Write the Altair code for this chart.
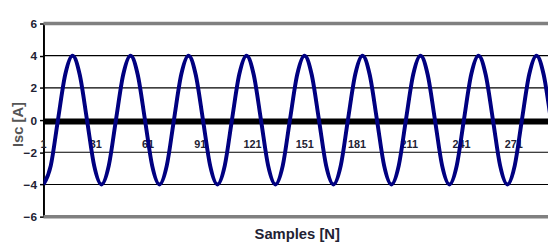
import altair as alt
import pandas as pd

# Sine wave key points (sample index, current in A)
samples = [1.0, 5.2, 9.3, 13.5, 17.7, 21.8, 26.0, 30.1, 34.3, 38.5, 42.6, 46.8,
           51.0, 55.1, 59.3, 63.4, 67.6, 71.8, 75.9, 80.1, 84.3, 88.4, 92.6, 96.7,
           100.9, 105.1, 109.2, 113.4, 117.6, 121.7, 125.9, 130.0, 134.2, 138.4,
           142.5, 146.7, 150.9, 155.0, 159.2, 163.3, 167.5, 171.7, 175.8, 180.0,
           184.2, 188.3, 192.5, 196.6, 200.8, 205.0, 209.1, 213.3, 217.5, 221.6,
           225.8, 229.9, 234.1, 238.3, 242.4, 246.6, 250.8, 254.9, 259.1, 263.2,
           267.4, 271.6, 275.7, 279.9, 284.1, 288.2, 292.4, 296.5, 300.7]
isc = [-4, -2.83, 0, 2.83, 4, 2.83, 0, -2.83] * 9 + [-4]

tick_labels = [1, 31, 61, 91, 121, 151, 181, 211, 241, 271]
thin_grid = [-4, -2, 2, 4]
gray_grid = [-6, 6]
zero_line = [0]
label_y = -1.55

wave = pd.DataFrame({"n": samples, "isc": isc})

xs = alt.Scale(domain=[1, 290.7], nice=False, zero=False)
ys = alt.Scale(domain=[-6, 6], nice=False, zero=False)

x_axis = alt.Axis(title="Samples [N]", labels=False, ticks=False, domain=False,
                  grid=False, titleFontWeight="bold", titleFontSize=15,
                  titleFont="Liberation Sans", titleColor="#222233",
                  titlePadding=10, titleX=257)
y_axis = alt.Axis(title="Isc [A]", values=[-6, -4, -2, 0, 2, 4, 6], grid=False,
                  domainColor="#000000", domainWidth=2, tickColor="#000000",
                  tickSize=4, tickWidth=1.5, labelFont="Liberation Sans",
                  labelFontWeight="bold", labelFontSize=12, labelColor="#222233",
                  labelPadding=3, titleFont="Liberation Sans", titleFontWeight="bold",
                  titleFontSize=15, titleColor="#555555", titleBaseline="middle",
                  titleX=-26.5, titleY=102)

X = alt.X("n:Q", scale=xs, axis=x_axis)
Y = alt.Y("isc:Q", scale=ys, axis=y_axis)

thin = alt.Chart(pd.DataFrame({"isc": thin_grid})).mark_rule(color="#000000", strokeWidth=1.2).encode(y=Y)
gray = alt.Chart(pd.DataFrame({"isc": gray_grid})).mark_rule(color="#808080", strokeWidth=3.5).encode(y=Y)
zero = alt.Chart(pd.DataFrame({"isc": zero_line})).mark_rule(color="#000000", strokeWidth=6, yOffset=1.5).encode(y=Y)

labels = alt.Chart(pd.DataFrame({"n": tick_labels, "isc": [label_y] * len(tick_labels)})).mark_text(
    font="Liberation Sans", fontWeight="bold", fontSize=11, color="#222233", baseline="middle"
).encode(x=X, y=Y, text="n:Q")

line = alt.Chart(wave).mark_line(color="#000080", strokeWidth=4, interpolate="monotone", clip=True).encode(
    x=X, y=Y)

chart = alt.layer(thin, gray, zero, labels, line).properties(
    width=512, height=196,
    autosize=alt.AutoSizeParams(type="none"),
    padding={"left": 36, "top": 14, "right": 0, "bottom": 26},
).configure_view(stroke=None)

chart.save("out.html", embed_options={"renderer": "svg", "actions": False})
